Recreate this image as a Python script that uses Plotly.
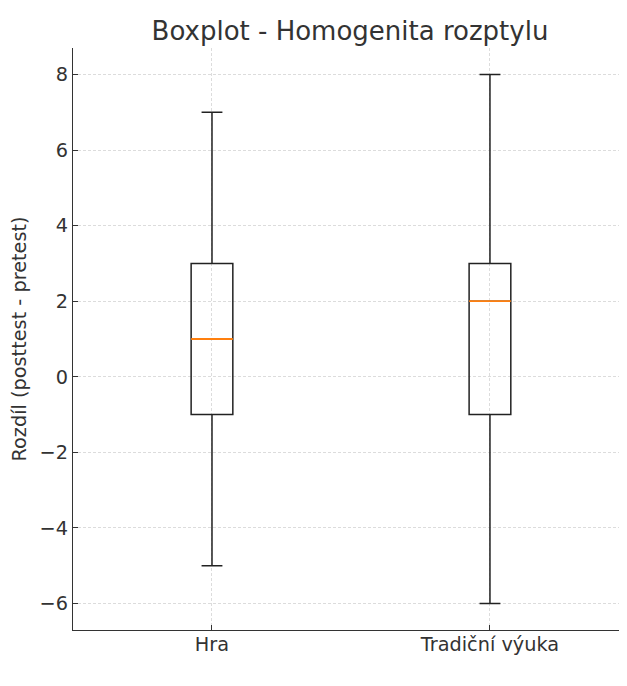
import plotly.graph_objects as go

categories = ["Hra", "Tradiční výuka"]
positions = [1, 2]
q1 = [-1, -1]
median = [1, 2]
q3 = [3, 3]
lower = [-5, -6]
upper = [7, 8]
y_ticks = [-6, -4, -2, 0, 2, 4, 6, 8]

BOX_W = 0.15
TXT = "#333333"
AX = "#333333"

fig = go.Figure()
for i, cat in enumerate(categories):
    fig.add_trace(go.Box(
        x=[positions[i]], q1=[q1[i]], median=[median[i]], q3=[q3[i]],
        lowerfence=[lower[i]], upperfence=[upper[i]],
        width=BOX_W, whiskerwidth=0.5,
        line=dict(color="#222222", width=1.5),
        fillcolor="rgba(0,0,0,0)", name=cat, showlegend=False,
        hoverinfo="skip",
    ))
for i, cat in enumerate(categories):
    fig.add_trace(go.Scatter(
        x=[positions[i] - BOX_W / 2, positions[i] + BOX_W / 2],
        y=[median[i], median[i]], mode="lines",
        line=dict(color="#ff7f0e", width=1.8), showlegend=False,
        hoverinfo="skip",
    ))

fig.update_layout(
    width=619, height=660,
    margin=dict(l=65, r=0, t=40, b=38),
    paper_bgcolor="white", plot_bgcolor="white",
    font=dict(family="DejaVu Sans", size=19.3, color=TXT),
    title=dict(text="Boxplot - Homogenita rozptylu", x=0.5, xref="paper",
               y=1 - 23 / 660, yref="container", yanchor="middle", xanchor="center",
               font=dict(size=26, color=TXT)),
)
fig.update_xaxes(
    range=[0.5, 2.493], tickvals=positions, ticktext=categories,
    showline=True, linecolor=AX, linewidth=1.3, mirror=False,
    ticks="inside", ticklen=5, tickcolor=AX, tickwidth=1,
    showgrid=True, gridcolor="#dcdcdc", griddash="3px,2px", gridwidth=1,
    zeroline=False, automargin=False, ticklabelstandoff=-3,
)
fig.update_yaxes(
    range=[-6.7, 8.7], tickvals=y_ticks,
    showline=True, linecolor=AX, linewidth=1.3, mirror=False,
    ticks="inside", ticklen=5, tickcolor=AX, tickwidth=1,
    showgrid=True, gridcolor="#dcdcdc", griddash="3px,2px", gridwidth=1,
    zeroline=False, automargin=False,
    title=dict(text="Rozdíl (posttest - pretest)", standoff=8, font=dict(size=19.3)),
)
fig.write_html(
    "out.html",
    post_script="document.documentElement.style.overflow='hidden';document.body.style.overflow='hidden';",
)
